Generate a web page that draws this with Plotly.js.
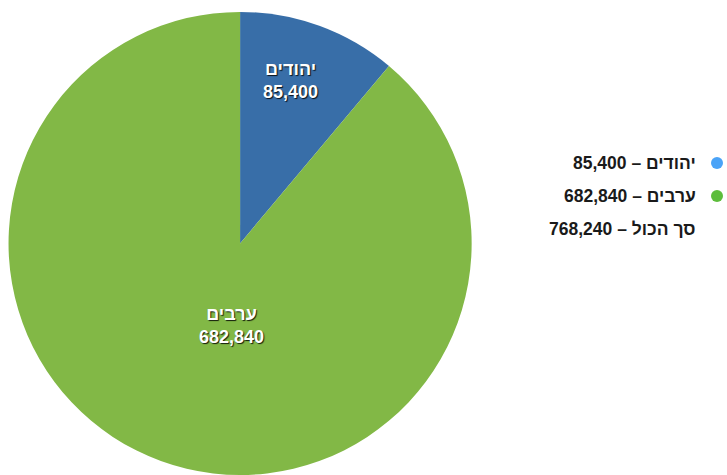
<!DOCTYPE html>
<html>
<head>
<meta charset="utf-8">
<script src="https://cdn.plot.ly/plotly-3.0.1.min.js"></script>
<style>html,body{margin:0;padding:0;background:#fff;}#chart{width:727px;height:475px;}</style>
</head>
<body>
<div id="chart"></div>
<script>
const labels = ["יהודים", "ערבים"];
const values = [85400, 682840];
const sliceColors = ["#386ea8", "#82b846"];
const legendDotColors = ["#4aa3f7", "#5dbd3c"];
const totalLabel = "סך הכול";
// label anchor points inside the slices (paper fractions)
const sliceLabelPos = [[290 / 727, 1 - 81 / 475], [232 / 727, 1 - 325 / 475]];

const FONT = '"Liberation Sans", Arial, sans-serif';
const total = values.reduce((a, b) => a + b, 0);
const fmt = v => v.toLocaleString("en-US");
const rtl = s => "\u202B" + s + "\u202C";

const trace = {
  type: "pie",
  labels: labels,
  values: values,
  sort: false,
  direction: "clockwise",
  rotation: 0,
  marker: {colors: sliceColors, line: {width: 0}},
  textinfo: "none",
  hoverinfo: "none",
  showlegend: false,
  domain: {x: [0.007, 0.6535], y: [0.0, 0.975]}
};

const annotations = [];
const shapes = [];
const legendY = [163, 196, 229];
labels.forEach((l, i) => {
  annotations.push({
    xref: "paper", yref: "paper", x: sliceLabelPos[i][0], y: sliceLabelPos[i][1],
    xanchor: "center", yanchor: "middle", showarrow: false, align: "center",
    text: l + "<br>" + fmt(values[i]),
    font: {family: FONT, size: 18, color: "#ffffff", weight: "bold", shadow: "1px 1px 1px rgba(0,0,0,0.85)"}
  });
  annotations.push({
    xref: "paper", yref: "paper", x: 698 / 727, y: 1 - legendY[i] / 475,
    xanchor: "right", yanchor: "middle", showarrow: false,
    text: rtl(l + " – " + fmt(values[i])),
    font: {family: FONT, size: 17.5, color: "#1a1a1a", weight: "bold"}
  });
  shapes.push({
    type: "circle", xref: "paper", yref: "paper",
    xsizemode: "pixel", ysizemode: "pixel",
    xanchor: 717 / 727, yanchor: 1 - legendY[i] / 475,
    x0: -6, x1: 6, y0: -6, y1: 6,
    fillcolor: legendDotColors[i], line: {width: 0}
  });
});
annotations.push({
  xref: "paper", yref: "paper", x: 698 / 727, y: 1 - legendY[2] / 475,
  xanchor: "right", yanchor: "middle", showarrow: false,
  text: rtl(totalLabel + " – " + fmt(total)),
  font: {family: FONT, size: 17.5, color: "#1a1a1a", weight: "bold"}
});

const layout = {
  width: 727, height: 475,
  margin: {l: 0, r: 0, t: 0, b: 0},
  paper_bgcolor: "#ffffff",
  showlegend: false,
  annotations: annotations,
  shapes: shapes
};

Plotly.newPlot("chart", [trace], layout, {displayModeBar: false, staticPlot: true});
</script>
</body>
</html>
